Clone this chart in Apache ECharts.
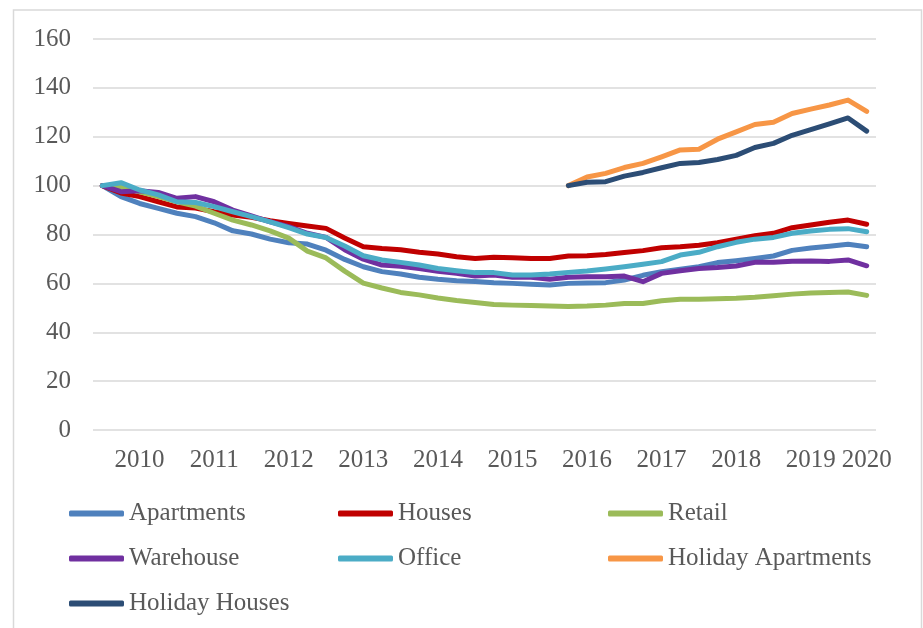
<!DOCTYPE html>
<html>
<head>
<meta charset="utf-8">
<script src="https://cdn.jsdelivr.net/npm/echarts@6/dist/echarts.min.js"></script>
<style>
  html, body { margin: 0; padding: 0; background: #fff; }
  #chart { width: 923px; height: 628px; }
</style>
</head>
<body>
<div id="chart"></div>
<script>
// Quarterly periods (42 points)
const periods = [
  '2009Q4',
  '2010Q1','2010Q2','2010Q3','2010Q4',
  '2011Q1','2011Q2','2011Q3','2011Q4',
  '2012Q1','2012Q2','2012Q3','2012Q4',
  '2013Q1','2013Q2','2013Q3','2013Q4',
  '2014Q1','2014Q2','2014Q3','2014Q4',
  '2015Q1','2015Q2','2015Q3','2015Q4',
  '2016Q1','2016Q2','2016Q3','2016Q4',
  '2017Q1','2017Q2','2017Q3','2017Q4',
  '2018Q1','2018Q2','2018Q3','2018Q4',
  '2019Q1','2019Q2','2019Q3','2019Q4',
  '2020Q1'
];
// Tick labels shown on the x axis and the period index where each sits
const xTickLabels = ['2010','2011','2012','2013','2014','2015','2016','2017','2018','2019','2020'];
const xTickIndex  = [2, 6, 10, 14, 18, 22, 26, 30, 34, 38, 41];

const yTicks = [0, 20, 40, 60, 80, 100, 120, 140, 160];

const apartments = [100,95.5,92.7,90.7,88.7,87.3,84.8,81.5,80.2,78.1,76.6,76.1,73.6,69.8,66.8,64.8,63.8,62.5,61.7,61.1,
  60.8,60.3,60,59.6,59.3,60,60.2,60.3,61.4,63.3,64.8,65.8,66.8,68.5,69.3,70.2,71.2,73.5,74.5,75.2,76,75];
const houses = [100,97,95.5,93.4,91.3,90.8,89.3,88,87,85.6,84.5,83.5,82.5,78.6,75,74.3,73.8,72.7,72,70.9,
  70.2,70.7,70.5,70.2,70.2,71.2,71.3,71.8,72.6,73.4,74.6,75,75.6,76.6,78.1,79.5,80.5,82.8,83.9,85,85.9,84.2];
const retail = [100,99.5,97.5,95.5,93.4,91.6,88.7,85.9,83.9,81.5,78.5,73.2,70.4,65,60.1,58.1,56.3,55.3,54,53,
  52.2,51.4,51.1,50.9,50.7,50.5,50.7,51.1,51.8,51.8,52.9,53.5,53.5,53.7,53.9,54.3,54.9,55.6,56.1,56.3,56.5,55.1];
const warehouse = [100,97.5,97.9,97.2,94.8,95.5,93.4,90,87.6,85.2,83.2,80.5,78.8,73.8,69.9,67.5,67,66.1,65,64.1,
  63,63.4,62.5,62.5,61.7,62.5,62.7,62.7,63,60.7,64.1,65.2,66.1,66.5,67.1,68.6,68.6,69.1,69.2,69,69.6,67.2];
const office = [100,101.2,98.2,96.2,93.4,93.1,91.4,89.3,87.3,85.2,82.8,80.2,78.8,75.3,71.3,69.6,68.6,67.5,66.1,65.2,
  64.4,64.4,63.4,63.4,63.8,64.5,65.1,65.9,66.8,67.8,68.9,71.6,72.7,75,76.8,78.1,78.8,80.5,81.4,82.1,82.4,81.1];
const holidayApartments = [null,null,null,null,null,null,null,null,null,null,null,null,null,null,null,null,null,null,null,null,
  null,null,null,null,null,100,103.5,105,107.4,109.1,111.8,114.6,114.9,119,122,125,125.9,129.5,131.3,133,135,130.4];
const holidayHouses = [null,null,null,null,null,null,null,null,null,null,null,null,null,null,null,null,null,null,null,null,
  null,null,null,null,null,100,101.4,101.6,103.9,105.4,107.3,109.1,109.5,110.7,112.4,115.6,117.3,120.6,122.9,125.3,127.7,122.3];

const seriesNames = ['Apartments','Houses','Retail','Warehouse','Office','Holiday Apartments','Holiday Houses'];
const seriesData = [apartments, houses, retail, warehouse, office, holidayApartments, holidayHouses];
const colors = ['#4F81BD','#C00000','#9BBB59','#7030A0','#4BACC6','#F79646','#2C4D75'];

const FONT = '"Liberation Serif", "DejaVu Serif", serif';
const TXT = '#595959';

const chart = echarts.init(document.getElementById('chart'), null, {renderer: 'canvas'});

const legendBase = {
  orient: 'vertical',
  top: 501,
  padding: 0,
  itemWidth: 55,
  itemHeight: 6,
  itemGap: 20,
  icon: 'roundRect',
  textStyle: { fontFamily: FONT, fontSize: 25, color: TXT, lineHeight: 25 }
};

chart.setOption({
  animation: false,
  color: colors,
  graphic: [{
    type: 'rect',
    shape: { x: 13.5, y: 10, width: 908, height: 640 },
    style: { fill: 'none', stroke: '#d9d9d9', lineWidth: 1.5 },
    silent: true
  }],
  grid: { left: 93, right: 47, top: 39, bottom: 198, containLabel: false },
  legend: [
    Object.assign({}, legendBase, { left: 69, data: ['Apartments','Warehouse','Holiday Houses'] }),
    Object.assign({}, legendBase, { left: 338, data: ['Houses','Office'] }),
    Object.assign({}, legendBase, { left: 608, data: ['Retail','Holiday Apartments'] })
  ],
  xAxis: {
    type: 'category',
    data: periods,
    boundaryGap: true,
    axisLine: { show: false },
    axisTick: { show: false },
    axisLabel: {
      interval: function (index) { return xTickIndex.indexOf(index) >= 0; },
      formatter: function (value, index) {
        const k = xTickIndex.indexOf(index);
        return k >= 0 ? xTickLabels[k] : '';
      },
      fontFamily: FONT, fontSize: 25, color: TXT, margin: 18
    },
    splitLine: { show: false }
  },
  yAxis: {
    type: 'value',
    min: yTicks[0],
    max: yTicks[yTicks.length - 1],
    interval: 20,
    axisLine: { show: false },
    axisTick: { show: false },
    axisLabel: { fontFamily: FONT, fontSize: 25, color: TXT, margin: 22 },
    splitLine: { lineStyle: { color: '#d9d9d9', width: 1.5 } }
  },
  series: seriesNames.map(function (name, i) {
    return {
      name: name,
      type: 'line',
      data: seriesData[i],
      symbol: 'none',
      showSymbol: false,
      connectNulls: false,
      lineStyle: { width: 5, color: colors[i], cap: 'round', join: 'round' },
      itemStyle: { color: colors[i] }
    };
  })
});
</script>
</body>
</html>
